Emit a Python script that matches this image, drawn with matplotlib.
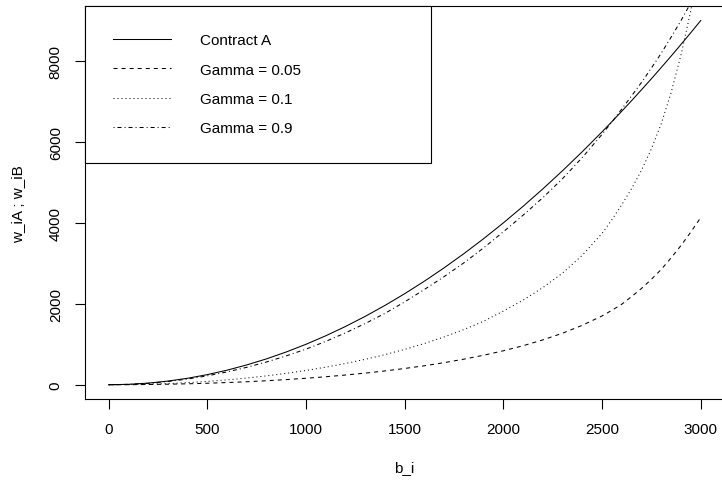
import matplotlib
matplotlib.use("Agg")
import matplotlib.pyplot as plt

# valeurs (b_i tous les 100, puis tous les 50 a la fin)
b_i = [0, 100, 200, 300, 400, 500, 600, 700, 800, 900, 1000,
       1100, 1200, 1300, 1400, 1500, 1600, 1700, 1800, 1900, 2000,
       2100, 2200, 2300, 2400, 2500, 2550, 2600, 2650, 2700, 2750,
       2800, 2850, 2900, 2950, 3000]

contrat_a = [0, 10, 40, 90, 160, 250, 360, 490, 640, 810, 1000,
             1210, 1440, 1690, 1960, 2250, 2560, 2890, 3240, 3610, 4000,
             4410, 4840, 5290, 5760, 6250, 6502, 6760, 7022, 7290, 7562,
             7840, 8122, 8410, 8702, 9000]

gamma_005 = [0, 1, 6, 13, 23, 37, 54, 74, 99, 127, 160,
             197, 240, 287, 341, 402, 469, 546, 632, 729, 839,
             964, 1108, 1274, 1469, 1700, 1840, 1990, 2180, 2380, 2605,
             2850, 3135, 3440, 3775, 4131]

gamma_01 = [0, 3, 13, 29, 52, 82, 120, 166, 219, 281, 353,
            434, 525, 628, 744, 873, 1019, 1181, 1364, 1570, 1820,
            2090, 2400, 2760, 3200, 3740, 4080, 4450, 4850, 5300, 5830,
            6450, 7220, 8150, 9250, 10600]

gamma_09 = [0, 9, 35, 79, 141, 220, 317, 431, 563, 713, 880,
            1071, 1282, 1513, 1764, 2048, 2355, 2673, 3013, 3383, 3780,
            4190, 4622, 5094, 5616, 6188, 6495, 6814, 7140, 7472, 7826,
            8193, 8590, 8999, 9440, 9900]

etiquettes = ["Contract A", "Gamma = 0.05", "Gamma = 0.1", "Gamma = 0.9"]

plt.rcParams['font.family'] = ['Liberation Sans', 'DejaVu Sans']
plt.rcParams['lines.scale_dashes'] = False

fig = plt.figure(figsize=(7.22, 4.81), dpi=100)
W, H = 722.0, 481.0
ax = fig.add_axes([85 / W, 80.7 / H, (724.4 - 85) / W, 393.3 / H])

lw = 0.75
ax.plot(b_i, contrat_a, color="black", lw=lw, linestyle="-", label=etiquettes[0])
ax.plot(b_i, gamma_005, color="black", lw=lw, linestyle=(0, (2.9, 2.9)), label=etiquettes[1])
ax.plot(b_i, gamma_01, color="black", lw=lw, linestyle=(0, (0.72, 2.16)), label=etiquettes[2])
ax.plot(b_i, gamma_09, color="black", lw=lw, linestyle=(0, (0.72, 2.16, 2.9, 2.16)), label=etiquettes[3])

ax.set_xlim(-120, 3120)
ax.set_ylim(-360, 9360)
ax.set_xticks([0, 500, 1000, 1500, 2000, 2500, 3000])
ax.set_yticks([0, 2000, 4000, 6000, 8000])

for s in ax.spines.values():
    s.set_linewidth(0.8)
    s.set_color("black")

ax.tick_params(axis="both", direction="out", length=7, width=0.8, labelsize=11, colors="black")
ax.tick_params(axis="x", pad=9)
ax.tick_params(axis="y", pad=9)
for t in ax.get_yticklabels():
    t.set_rotation(90)
    t.set_va("center")

ax.set_xlabel("b_i", fontsize=11)
ax.set_ylabel("w_iA ; w_iB", fontsize=11, labelpad=17)
ax.xaxis.set_label_coords((404.5 - 85) / (724.4 - 85), -0.154)

leg = ax.legend(loc="upper left", bbox_to_anchor=(0, 1, (431 - 85) / (724.4 - 85), 0),
                mode="expand", borderaxespad=0, fancybox=False, framealpha=1,
                edgecolor="black", fontsize=11, handlelength=3.8, handletextpad=1.9,
                borderpad=1.8, labelspacing=1.0)
leg.get_frame().set_linewidth(0.8)

fig.savefig("out.png", dpi=100)
